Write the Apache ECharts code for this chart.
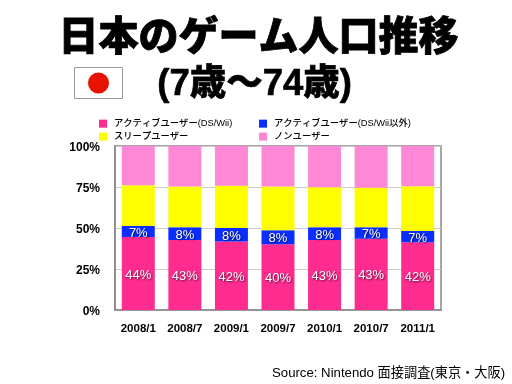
<!DOCTYPE html>
<html><head><meta charset="utf-8">
<style>html,body{margin:0;padding:0;background:#fff}#c{width:512px;height:384px}</style>
<script src="https://cdn.jsdelivr.net/npm/echarts@6/dist/echarts.min.js"></script>
</head><body><div id="c"></div>
<script>
const categories=['2008/1','2008/7','2009/1','2009/7','2010/1','2010/7','2011/1'];
const activeDsWii=[44.5,42.7,41.7,40.1,42.7,43.5,41.3];
const activeOther=[6.7,7.7,8.3,8.5,7.7,6.9,6.9];
const sleep=[24.9,24.9,25.7,26.7,24.5,24.1,27.3];
const non=[23.9,24.7,24.3,24.7,25.1,25.5,24.5];
const activeDsWiiLabels=['44%','43%','42%','40%','43%','43%','42%'];
const activeOtherLabels=['7%','8%','8%','8%','8%','7%','7%'];
const yTicks=[0,25,50,75,100];
const names=['アクティブユーザー(DS/Wii)','アクティブユーザー(DS/Wii以外)','スリープユーザー','ノンユーザー'];
const colors=['#fe2c8f','#0a2eff','#fefe00','#fe88d6'];
const cjk='"Liberation Sans","Noto Sans CJK JP",sans-serif';
const lab=(arr)=>({show:true,position:'inside',offset:[0,1.5],color:'#fff',fontFamily:cjk,fontSize:13,
  textShadowColor:'rgba(0,0,0,.7)',textShadowBlur:2,textShadowOffsetX:1,textShadowOffsetY:1,
  formatter:p=>arr[p.dataIndex]});
const leg=(n,left,top)=>({data:[n],left,top,orient:'horizontal',itemWidth:8,itemHeight:8,itemGap:7,padding:0,icon:'rect',
  textStyle:{fontFamily:'"Liberation Sans","Noto Sans CJK JP"',fontWeight:500,fontSize:9.3,color:'#000',padding:[0,0,0,2]}});
const chart=echarts.init(document.getElementById('c'),null,{renderer:'canvas'});
chart.setOption({
  animation:false,backgroundColor:'#fff',
  grid:{show:true,borderColor:'#888',borderWidth:1.5,left:115,right:71,top:146,bottom:74,containLabel:false},
  legend:[leg(names[0],99,119),leg(names[1],259,119),leg(names[2],99,132),leg(names[3],259,132)],
  xAxis:{type:'category',data:categories,
    axisTick:{show:false},axisLine:{lineStyle:{color:'#888',width:1.5}},
    axisLabel:{fontFamily:cjk,fontWeight:'bold',fontSize:11.5,color:'#000',margin:13,interval:0}},
  yAxis:{type:'value',min:0,max:100,interval:25,
    axisLine:{show:true,lineStyle:{color:'#888',width:1.5}},axisTick:{show:false},
    splitLine:{lineStyle:{color:'#ccc',width:1}},
    axisLabel:{fontFamily:cjk,fontWeight:'bold',fontSize:12,color:'#000',margin:15,verticalAlign:'top',lineHeight:3,
      customValues:yTicks,formatter:v=>v+'%'}},
  series:[
    {name:names[0],type:'bar',stack:'a',barWidth:33,data:activeDsWii,itemStyle:{color:colors[0]},label:lab(activeDsWiiLabels)},
    {name:names[1],type:'bar',stack:'a',barWidth:33,data:activeOther,itemStyle:{color:colors[1]},label:lab(activeOtherLabels)},
    {name:names[2],type:'bar',stack:'a',barWidth:33,data:sleep,itemStyle:{color:colors[2]}},
    {name:names[3],type:'bar',stack:'a',barWidth:33,data:non,itemStyle:{color:colors[3]}}
  ],
  graphic:[
    {type:'text',left:58,top:14,style:{text:'日本のゲーム人口推移',font:'900 40px "Noto Sans CJK JP"',fill:'#000',stroke:'#000',lineWidth:0.8}},
    {type:'text',left:157,top:66,style:{text:'(7歳〜74歳)',font:'900 36.5px "Liberation Sans","Noto Sans CJK JP"',fill:'#000',stroke:'#000',lineWidth:0.6}},
    {type:'rect',shape:{x:74.5,y:67.5,width:48,height:31},style:{fill:'#fff',stroke:'#999',lineWidth:1}},
    {type:'circle',shape:{cx:98.5,cy:83,r:10.5},style:{fill:'#e81200'}},
    {type:'text',left:272,top:367,style:{text:'Source: Nintendo 面接調査(東京・大阪)',font:'13.2px "Liberation Sans","Noto Sans CJK JP"',fill:'#000'}}
  ]
});
</script></body></html>
